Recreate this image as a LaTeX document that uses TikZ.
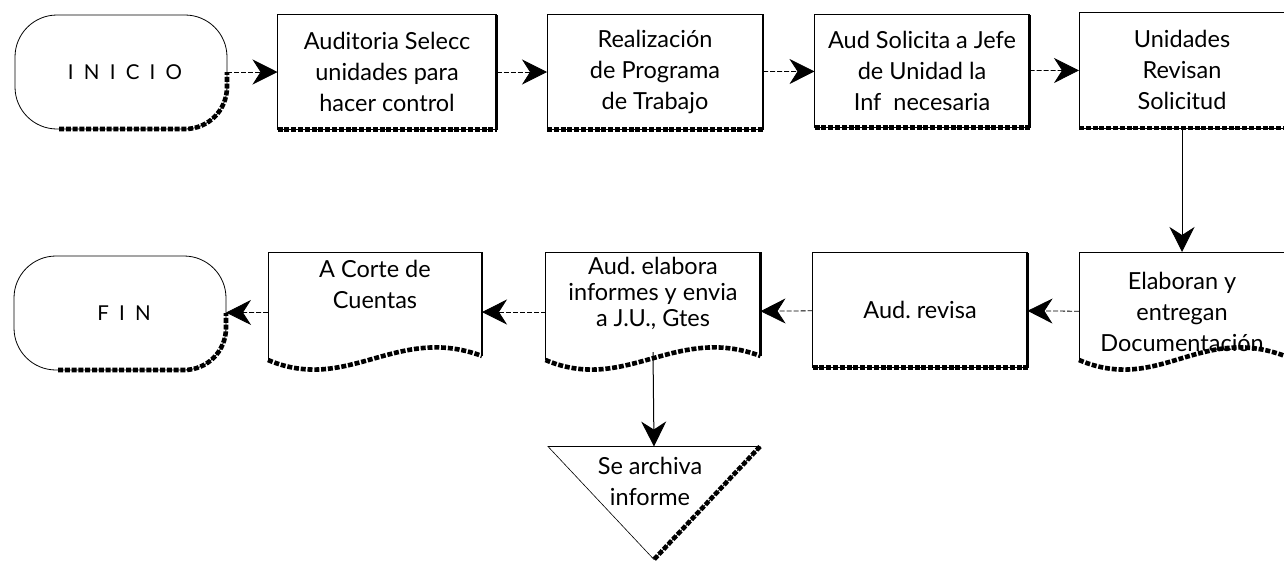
\documentclass[tikz,border=0pt]{standalone}
\usepackage{fontspec}
\setmainfont{Lato}
\usetikzlibrary{arrows.meta,calc}

\begin{document}
\begin{tikzpicture}[x=1pt,y=-1pt,
  txt/.style={align=center,inner sep=0pt,font=\fontsize{23.5}{31}\selectfont},
  tight/.style={font=\fontsize{23.5}{26}\selectfont},
  frame/.style={draw,line width=0.8pt},
  area/.style={inner sep=0pt,outer sep=0pt},
  shade/.style={line width=4.6pt,dash pattern=on 5pt off 1.8pt},
  rim/.style={line width=2.6pt},
  tipstyle/.style={-{Stealth[length=25pt,width=25pt,inset=8pt]}},
  flow/.style={line width=0.8pt,dash pattern=on 5pt off 2pt,tipstyle},
  drop/.style={line width=1pt,tipstyle},
  spaced/.style={font=\fontsize{20.5}{24}\selectfont\addfontfeatures{LetterSpace=50}},
]
\useasboundingbox (0,0) rectangle (1284,563);

% ---- terminals
\foreach \n/\cx/\cy/\t in {inicio/121/72/INICIO, fin/120/313/FIN}{
  \node[area,frame,rounded corners=42pt,minimum width=212pt,minimum height=114pt] (\n) at (\cx,\cy) {};
  \node[txt,spaced] (\n-t) at (\cx+4,\cy) {\t};
  \draw[shade,rounded corners=42pt] ($(\n.south west)+(44,0)$) -- (\n.south east) -- (\n.east);
}

% ---- process boxes
\node[area,frame,minimum width=219pt,minimum height=115pt] (sel) at (387,72) {};
\node[area,frame,minimum width=216pt,minimum height=115pt] (prog) at (655,72) {};
\node[area,frame,minimum width=215pt,minimum height=113pt] (soli) at (922,71) {};
\node[area,frame,minimum width=206pt,minimum height=116pt] (rev) at (1182,70) {};
\node[area,frame,minimum width=215pt,minimum height=115pt] (aud) at (920,310) {};

\node[txt] (sel-t) at (sel) {Auditoria Selecc\\unidades para\\hacer control};
\node[txt] (prog-t) at (prog) {Realización\\de Programa\\de Trabajo};
\node[txt] (soli-t) at (soli) {Aud Solicita a Jefe\\de Unidad la\\Inf \ necesaria};
\node[txt] (rev-t) at (rev) {Unidades\\Revisan\\Solicitud};
\node[txt] (aud-t) at (aud) {Aud.\ revisa};

\foreach \n in {sel,prog,soli,rev,aud}{
  \draw[shade] (\n.south west) -- (\n.south east);
  \draw[rim] (\n.south east) -- (\n.north east);
}

% ---- documents (wavy lower edge)
\node[area,minimum width=214pt,minimum height=120pt] (corte) at (375,312) {};
\node[area,minimum width=215pt,minimum height=120pt] (elab) at (653,312) {};
\node[area,minimum width=206pt,minimum height=120pt] (entr) at (1182,312) {};

\foreach \n in {corte,elab,entr}{
  \draw[frame] ($(\n.south west)+(0,-12)$) -- (\n.north west) -- (\n.north east) -- ($(\n.south east)+(0,-16)$);
  \draw[shade] ($(\n.south west)+(0,-12)$) .. controls +(80,34) and +(-85,-32) .. ($(\n.south east)+(0,-16)$);
  \draw[rim] ($(\n.south east)+(0,-16)$) -- (\n.north east);
}

\node[txt] (corte-t) at (375,284) {A Corte de\\Cuentas};
\node[txt,tight] (elab-t) at (653,293) {Aud.\ elabora\\informes y envia\\a J.U., Gtes};
\node[txt] (entr-t) at (1182,312) {Elaboran y\\entregan\\Documentación};

% ---- file (inverted triangle)
\node[area,minimum width=212pt,minimum height=113pt] (arch) at (654,503) {};
\draw[line width=0.6pt] (arch.north west) -- (arch.north east) -- (arch.south) -- cycle;
\draw[shade] (arch.north east) -- (arch.south);
\node[txt] (arch-t) at (650,481) {Se archiva\\informe};

% ---- connectors
\draw[flow] (inicio) -- (sel);
\draw[flow] (sel) -- (prog);
\draw[flow] (prog) -- (soli);
\draw[flow] (soli) -- (rev);
\draw[drop] (rev) -- (entr);
\draw[flow] (entr) -- (aud);
\draw[flow] (aud) -- (elab);
\draw[flow] (elab) -- (corte);
\draw[flow] (corte) -- (fin);
\draw[drop] ($(elab.south)+(0,-20)$) -- (arch.north);
\end{tikzpicture}
\end{document}
